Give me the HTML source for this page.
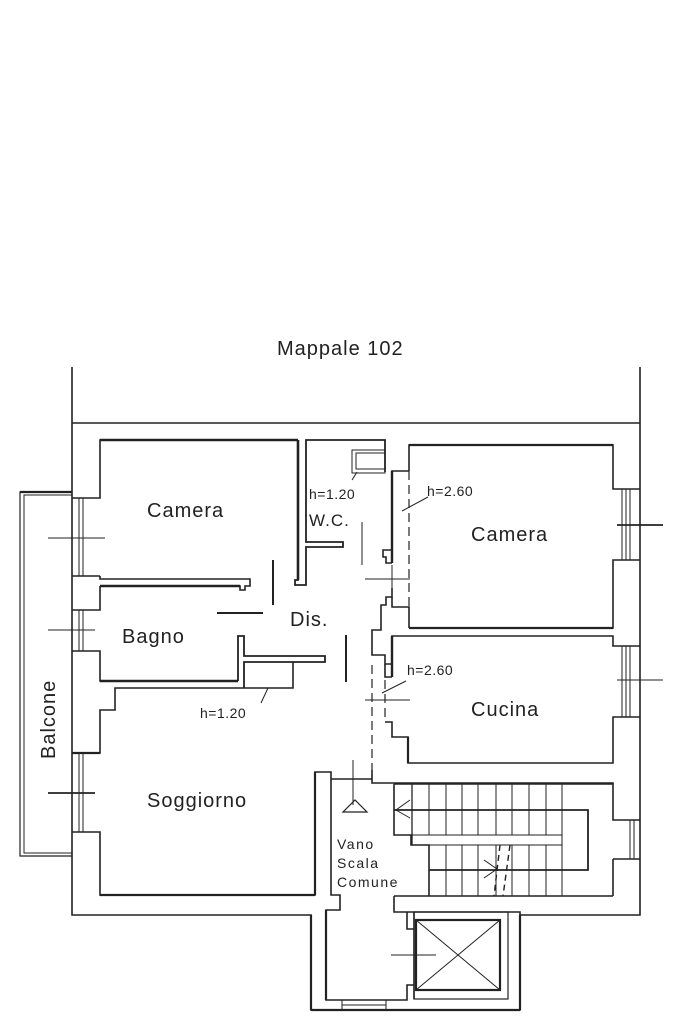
<!DOCTYPE html>
<html><head><meta charset="utf-8"><style>
html,body{margin:0;padding:0;background:#fff}
svg{display:block}
text{font-family:"Liberation Sans",sans-serif;fill:#222}
</style></head><body>
<svg width="683" height="1023" viewBox="0 0 683 1023" xmlns="http://www.w3.org/2000/svg">
<g fill="none" stroke="#222" stroke-width="1.6">
<line x1="72" y1="367" x2="72" y2="423"/>
<line x1="640" y1="367" x2="640" y2="423"/>
<line x1="72" y1="423" x2="640" y2="423"/>
<polyline points="72,423 72,915 311,915 311,1010 520,1010 520,915 640,915 640,423"/>
<polyline points="72,492 20,492 20,856 72,856" stroke-width="1.2"/>
<polyline points="72,495 24,495 24,853 72,853" stroke-width="1"/>
<line x1="20" y1="492" x2="72" y2="492" stroke-width="2.2"/>
<g stroke-width="1">
<line x1="79" y1="498" x2="79" y2="576"/><line x1="83" y1="498" x2="83" y2="576"/>
<line x1="79" y1="610" x2="79" y2="651"/><line x1="83" y1="610" x2="83" y2="651"/>
<line x1="79" y1="753" x2="79" y2="832"/><line x1="83" y1="753" x2="83" y2="832"/>
<line x1="48" y1="538" x2="105" y2="538"/>
<line x1="48" y1="630" x2="95" y2="630"/>
</g>
<line x1="48" y1="793" x2="95" y2="793" stroke-width="1.8"/>
<polyline points="72,498 100,498 100,440 298,440"/>
<line x1="100" y1="440" x2="298" y2="440" stroke-width="2.4"/>
<line x1="72" y1="576" x2="100" y2="576"/>
<polyline points="100,576 100,579 250,579 250,586 245,586 245,590 240,590 240,586 100,586" stroke-width="1.6"/>
<line x1="100" y1="586" x2="240" y2="586" stroke-width="2.4"/>
<polyline points="72,610 100,610 100,586"/>
<polyline points="72,651 100,651 100,681 238,681"/>
<line x1="100" y1="681" x2="238" y2="681" stroke-width="2.4"/>
<polyline points="238,681 238,636 244,636 244,656 325,656 325,662 244,662 244,688" stroke-width="1.8"/>
<polyline points="244,688 293,688 293,662"/>
<polyline points="244,688 115,688 115,710 100,710 100,753 72,753"/>
<polyline points="72,832 100,832 100,895 315,895 315,772 331,772 331,895 340,895 340,910 326,910 326,1000 407,1000 407,985 414,985"/>
<line x1="100" y1="895" x2="315" y2="895" stroke-width="2.2"/>
<line x1="315" y1="772" x2="315" y2="895" stroke-width="2.2"/>
<line x1="331" y1="779" x2="372" y2="779"/>
<line x1="72" y1="753" x2="100" y2="753" stroke-width="2.2"/>
<polyline points="298,440 298,580 295,580 295,585 306,585 306,547 343,547 343,542 306,542 306,440 385,440 385,472" stroke-width="1.8"/>
<line x1="298" y1="440" x2="298" y2="580" stroke-width="2.6"/>
<rect x="352" y="450" width="33" height="23" stroke-width="1"/>
<rect x="356" y="453" width="29" height="16" stroke-width="1"/>
<line x1="362" y1="522" x2="362" y2="565" stroke-width="1"/>
<polyline points="409,471 392,471 392,550 383,550 383,557 386,557 386,563 392,563"/>
<line x1="392" y1="471" x2="392" y2="563" stroke-width="2.4"/>
<polyline points="392,588 392,597 386,597 386,605 381,605 381,630 372,630 372,645"/>
<polyline points="392,597 392,607 409,607 409,628"/>
<line x1="365" y1="579" x2="410" y2="579" stroke-width="1"/>
<line x1="392" y1="565" x2="392" y2="590" stroke-width="1"/>
<line x1="409" y1="471" x2="409" y2="607" stroke-dasharray="9,5" stroke-width="1.2"/>
<polyline points="409,471 409,445 613,445 613,489 640,489"/>
<line x1="409" y1="445" x2="613" y2="445" stroke-width="2.2"/>
<polyline points="640,560 613,560 613,628 409,628"/>
<line x1="409" y1="628" x2="613" y2="628" stroke-width="2.2"/>
<g stroke-width="1">
<line x1="622" y1="489" x2="622" y2="560"/><line x1="626" y1="489" x2="626" y2="560"/><line x1="630" y1="489" x2="630" y2="560"/>
<line x1="622" y1="646" x2="622" y2="717"/><line x1="626" y1="646" x2="626" y2="717"/><line x1="630" y1="646" x2="630" y2="717"/>
<line x1="617" y1="680" x2="663" y2="680"/>
</g>
<line x1="617" y1="525" x2="663" y2="525" stroke-width="1.8"/>
<polyline points="372,645 372,655 385,655 385,664 392,664 392,636 613,636 613,646 640,646"/>
<line x1="392" y1="636" x2="392" y2="677" stroke-width="2.4"/>
<polyline points="385,664 385,677 392,677"/>
<polyline points="640,717 613,717 613,763 408,763 408,737 392,737 392,722 385,722"/>
<line x1="408" y1="737" x2="408" y2="763" stroke-width="2.2"/>
<line x1="372" y1="665" x2="372" y2="770" stroke-dasharray="9,5" stroke-width="1.2"/>
<line x1="385" y1="680" x2="385" y2="720" stroke-dasharray="9,5" stroke-width="1.2"/>
<line x1="365" y1="700" x2="410" y2="700" stroke-width="1"/>
<polyline points="372,770 372,783 613,783 613,820 640,820"/>
<line x1="613" y1="859" x2="640" y2="859"/>
<line x1="613" y1="859" x2="613" y2="896"/>
<line x1="630" y1="820" x2="630" y2="859" stroke-width="1"/><line x1="634" y1="820" x2="634" y2="859" stroke-width="1"/>
<line x1="273" y1="560" x2="273" y2="605" stroke-width="2"/>
<line x1="217" y1="613" x2="263" y2="613" stroke-width="2"/>
<line x1="346" y1="635" x2="346" y2="682" stroke-width="2"/>
<line x1="402" y1="511" x2="428" y2="497" stroke-width="1"/>
<line x1="382" y1="693" x2="406" y2="681" stroke-width="1"/>
<line x1="261" y1="703" x2="268" y2="688" stroke-width="1"/>
<line x1="352" y1="480" x2="357" y2="472" stroke-width="1"/>
<line x1="353" y1="760" x2="353" y2="805" stroke-width="1"/>
<path d="M343,812 L367,812 L355,800 Z" stroke-width="1.2"/>
<polyline points="394,784 394,835 411,835 411,845 429,845 429,896"/>
<line x1="394" y1="784" x2="613" y2="784"/>
<rect x="411" y="835" width="151" height="10" stroke-width="1"/>
<line x1="412" y1="784" x2="412" y2="845" stroke-width="1.3"/>
<g stroke-width="1">
<line x1="429" y1="784" x2="429" y2="835"/>
<line x1="446" y1="784" x2="446" y2="835"/><line x1="446" y1="845" x2="446" y2="896"/>
<line x1="462" y1="784" x2="462" y2="835"/><line x1="462" y1="845" x2="462" y2="896"/>
<line x1="478" y1="784" x2="478" y2="835"/><line x1="478" y1="845" x2="478" y2="896"/>
<line x1="496" y1="784" x2="496" y2="835"/><line x1="496" y1="845" x2="496" y2="896"/>
<line x1="512" y1="784" x2="512" y2="835"/><line x1="512" y1="845" x2="512" y2="896"/>
<line x1="529" y1="784" x2="529" y2="835"/><line x1="529" y1="845" x2="529" y2="896"/>
<line x1="546" y1="784" x2="546" y2="835"/><line x1="546" y1="845" x2="546" y2="896"/>
<line x1="562" y1="784" x2="562" y2="896"/>
</g>
<polyline points="394,810 588,810 588,870 429,870" stroke-width="1.8"/>
<polyline points="410,800 396,810 410,818" stroke-width="1"/>
<path d="M500,845 L494,896 M510,845 L503,896" stroke-dasharray="6,4" stroke-width="1.4"/>
<polyline points="484,860 497,869 484,878" stroke-width="1"/>
<polyline points="394,896 613,896"/>
<polyline points="311,915 311,1010" stroke-width="2.2"/>
<polyline points="394,896 394,912 520,912 520,915"/>
<line x1="311" y1="1010" x2="520" y2="1010" stroke-width="2.2"/>
<line x1="520" y1="915" x2="520" y2="1010" stroke-width="2.2"/>
<line x1="326" y1="910" x2="326" y2="1000" stroke-width="2.2"/>
<polyline points="414,999 414,912"/>
<polyline points="407,912 407,929 414,929" stroke-width="1.6"/>
<rect x="414" y="912" width="94" height="87" stroke-width="1.2"/>
<rect x="416" y="920" width="84" height="70" stroke-width="2.2"/>
<line x1="416" y1="920" x2="500" y2="990" stroke-width="1"/>
<line x1="500" y1="920" x2="416" y2="990" stroke-width="1"/>
<line x1="391" y1="955" x2="436" y2="955" stroke-width="1"/>
<rect x="342" y="1000" width="44" height="10" stroke-width="1"/>
<line x1="342" y1="1005" x2="386" y2="1005" stroke-width="1"/>
</g>
<text x="277" y="355" font-size="20" letter-spacing="1">Mappale 102</text>
<text x="147" y="517" font-size="20" letter-spacing="1">Camera</text>
<text x="122" y="643" font-size="20" letter-spacing="1">Bagno</text>
<text x="290" y="626" font-size="20" letter-spacing="1">Dis.</text>
<text x="309" y="526" font-size="17" letter-spacing="1" fill="#555">W.C.</text>
<text x="309" y="499" font-size="14" letter-spacing="0.5">h=1.20</text>
<text x="200" y="718" font-size="14" letter-spacing="0.5">h=1.20</text>
<text x="427" y="496" font-size="14" letter-spacing="0.5">h=2.60</text>
<text x="407" y="675" font-size="14" letter-spacing="0.5">h=2.60</text>
<text x="471" y="541" font-size="20" letter-spacing="1">Camera</text>
<text x="471" y="716" font-size="20" letter-spacing="1">Cucina</text>
<text x="147" y="807" font-size="20" letter-spacing="1">Soggiorno</text>
<text x="337" y="849" font-size="14" letter-spacing="1.5">Vano</text>
<text x="337" y="868" font-size="14" letter-spacing="1.5">Scala</text>
<text x="337" y="887" font-size="14" letter-spacing="1.5">Comune</text>
<text x="0" y="0" font-size="20" letter-spacing="1" transform="translate(55,759) rotate(-90)">Balcone</text>
</svg>
</body></html>
